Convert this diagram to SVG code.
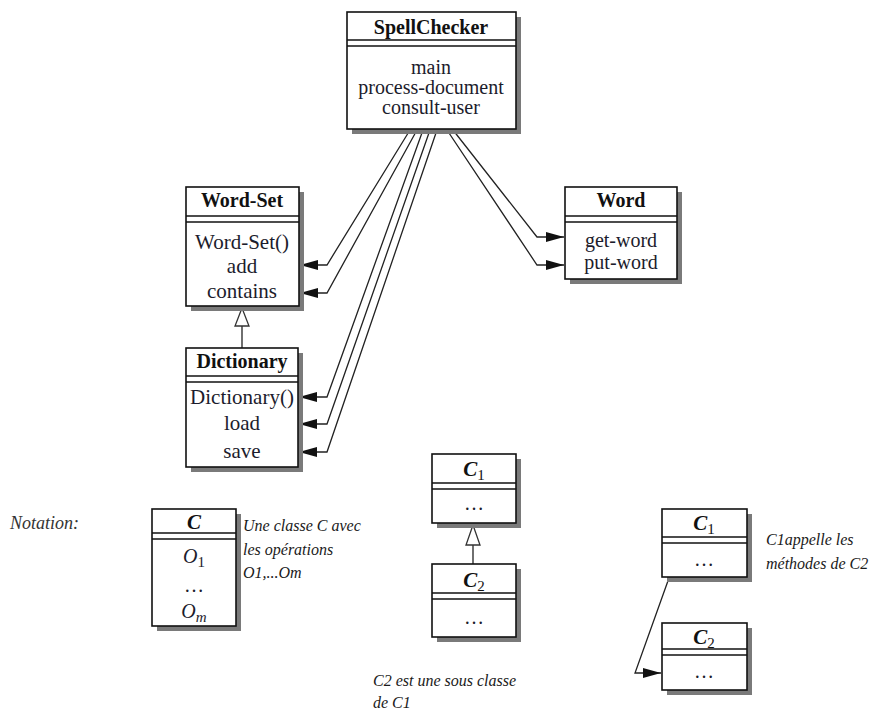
<svg xmlns="http://www.w3.org/2000/svg" width="890" height="715" viewBox="0 0 890 715">
<defs>
<style>
.shadow{fill:#7a7a7a}
.box{fill:#fff;stroke:#111;stroke-width:1.6}
.sep{stroke:#111;stroke-width:1.4;fill:none}
.ttl{font-family:"Liberation Serif","Times New Roman",serif;font-weight:bold;font-size:20px;text-anchor:middle;fill:#111}
.mth{font-family:"Liberation Serif","Times New Roman",serif;font-size:20px;text-anchor:middle;fill:#1c1c2c}
.big{font-size:21px}
.cit{font-family:"Liberation Serif","Times New Roman",serif;font-style:italic;font-weight:bold;font-size:21px;text-anchor:middle;fill:#111}
.sub{font-style:normal;font-weight:normal;font-size:15px}
.note{font-family:"Liberation Serif","Times New Roman",serif;font-style:italic;font-size:16px;fill:#1a1a1a}
.lbl{font-family:"Liberation Serif","Times New Roman",serif;font-style:italic;font-size:18px;fill:#333}
.con{fill:none;stroke:#222;stroke-width:1.3}
.inh{fill:#fff;stroke:#333;stroke-width:1.3}
</style>
<marker id="ah" viewBox="0 0 18 10" refX="18" refY="5" markerWidth="18" markerHeight="10" orient="auto" markerUnits="userSpaceOnUse">
<path d="M0,0 L18,5 L0,10 Z" fill="#111"/>
</marker>
</defs>

<g id="connectors">
<path class="con" d="M410,130 L327,265 L300,265" marker-end="url(#ah)"/>
<path class="con" d="M417,130 L327,293 L300,293" marker-end="url(#ah)"/>
<path class="con" d="M423,130 L327,397 L299,397" marker-end="url(#ah)"/>
<path class="con" d="M430,130 L327,424 L299,424" marker-end="url(#ah)"/>
<path class="con" d="M437,130 L327,452 L299,452" marker-end="url(#ah)"/>
<path class="con" d="M453,130 L537,237 L564,237" marker-end="url(#ah)"/>
<path class="con" d="M447,130 L537,265 L564,265" marker-end="url(#ah)"/>
<line class="con" x1="242" y1="326" x2="242" y2="348"/>
<polygon class="inh" points="242,308 235,326 249,326"/>
<line class="con" x1="473" y1="545" x2="473" y2="564"/>
<polygon class="inh" points="473,525 466,545 480,545"/>
<path class="con" d="M669,578 L635,673 L661,673" marker-end="url(#ah)"/>
</g>

<g id="SpellChecker">
<rect class="shadow" x="352" y="17" width="169" height="117"/>
<rect class="box" x="347" y="12" width="169" height="117"/>
<line class="sep" x1="347" y1="40" x2="516" y2="40"/>
<line class="sep" x1="347" y1="46" x2="516" y2="46"/>
<text class="ttl" x="431" y="34">SpellChecker</text>
<text class="mth" x="431" y="74">main</text>
<text class="mth" x="431" y="94">process-document</text>
<text class="mth" x="431" y="114">consult-user</text>
</g>

<g id="WordSet">
<rect class="shadow" x="191" y="192" width="113" height="119"/>
<rect class="box" x="186" y="187" width="113" height="119"/>
<line class="sep" x1="186" y1="216" x2="299" y2="216"/>
<line class="sep" x1="186" y1="222" x2="299" y2="222"/>
<text class="ttl" x="242" y="207">Word-Set</text>
<text class="mth big" x="242" y="249">Word-Set()</text>
<text class="mth big" x="242" y="273">add</text>
<text class="mth big" x="242" y="298">contains</text>
</g>

<g id="Dictionary">
<rect class="shadow" x="191" y="353" width="112" height="119"/>
<rect class="box" x="186" y="348" width="112" height="119"/>
<line class="sep" x1="186" y1="376" x2="298" y2="376"/>
<line class="sep" x1="186" y1="382" x2="298" y2="382"/>
<text class="ttl" x="242" y="368">Dictionary</text>
<text class="mth big" x="242" y="404">Dictionary()</text>
<text class="mth big" x="242" y="430">load</text>
<text class="mth big" x="242" y="458">save</text>
</g>

<g id="Word">
<rect class="shadow" x="570" y="192" width="112" height="92"/>
<rect class="box" x="565" y="187" width="112" height="92"/>
<line class="sep" x1="565" y1="216" x2="677" y2="216"/>
<line class="sep" x1="565" y1="222" x2="677" y2="222"/>
<text class="ttl" x="621" y="207">Word</text>
<text class="mth" x="621" y="247">get-word</text>
<text class="mth" x="621" y="269">put-word</text>
</g>

<g id="notation">
<text class="lbl" x="10" y="529">Notation:</text>
</g>

<g id="C">
<rect class="shadow" x="157" y="514" width="84" height="117"/>
<rect class="box" x="152" y="509" width="84" height="117"/>
<line class="sep" x1="152" y1="533" x2="236" y2="533"/>
<line class="sep" x1="152" y1="539" x2="236" y2="539"/>
<text class="cit" x="194" y="529">C</text>
<text class="mth" x="194" y="563" font-style="italic" font-size="22">O<tspan font-style="normal" font-size="15" dy="4">1</tspan></text>
<text class="mth" x="194" y="592" font-size="14">…</text>
<text class="mth" x="194" y="618" font-style="italic" font-size="22">O<tspan font-size="15" dy="4">m</tspan></text>
</g>
<text class="note" x="243" y="531">Une classe C avec</text>
<text class="note" x="243" y="555">les opérations</text>
<text class="note" x="243" y="578">O1,...Om</text>

<g id="C1a">
<rect class="shadow" x="437" y="459" width="84" height="69"/>
<rect class="box" x="432" y="454" width="84" height="69"/>
<line class="sep" x1="432" y1="483" x2="516" y2="483"/>
<line class="sep" x1="432" y1="489" x2="516" y2="489"/>
<text class="cit" x="474" y="476">C<tspan class="sub" dy="4">1</tspan></text>
<text class="mth" x="474" y="510" font-size="14">…</text>
</g>

<g id="C2a">
<rect class="shadow" x="437" y="569" width="84" height="73"/>
<rect class="box" x="432" y="564" width="84" height="73"/>
<line class="sep" x1="432" y1="593" x2="516" y2="593"/>
<line class="sep" x1="432" y1="599" x2="516" y2="599"/>
<text class="cit" x="474" y="587">C<tspan class="sub" dy="4">2</tspan></text>
<text class="mth" x="474" y="624" font-size="14">…</text>
</g>
<text class="note" x="373" y="686">C2 est une sous classe</text>
<text class="note" x="373" y="708">de C1</text>

<g id="C1b">
<rect class="shadow" x="667" y="514" width="85" height="68"/>
<rect class="box" x="662" y="509" width="85" height="68"/>
<line class="sep" x1="662" y1="537" x2="747" y2="537"/>
<line class="sep" x1="662" y1="543" x2="747" y2="543"/>
<text class="cit" x="704" y="530">C<tspan class="sub" dy="4">1</tspan></text>
<text class="mth" x="704" y="566" font-size="14">…</text>
</g>

<g id="C2b">
<rect class="shadow" x="667" y="628" width="85" height="67"/>
<rect class="box" x="662" y="623" width="85" height="67"/>
<line class="sep" x1="662" y1="649" x2="747" y2="649"/>
<line class="sep" x1="662" y1="655" x2="747" y2="655"/>
<text class="cit" x="704" y="644">C<tspan class="sub" dy="4">2</tspan></text>
<text class="mth" x="704" y="678" font-size="14">…</text>
</g>
<text class="note" x="766" y="545">C1appelle les</text>
<text class="note" x="766" y="569">méthodes de C2</text>
</svg>
